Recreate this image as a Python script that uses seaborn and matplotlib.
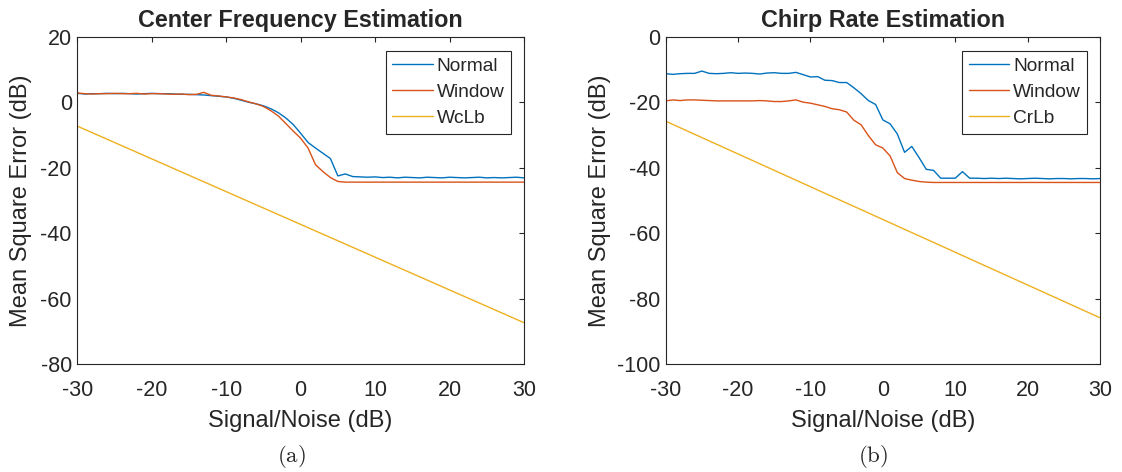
import numpy as np
import pandas as pd
import matplotlib
matplotlib.use("Agg")
import matplotlib.pyplot as plt
import seaborn as sns

# Signal-to-noise grid (dB)
snr = list(range(-30, 31))

# Center frequency estimation MSE (dB)
cf_normal = [2.7, 2.5, 2.6, 2.6, 2.7, 2.6, 2.7, 2.6, 2.5, 2.6,
             2.7, 2.6, 2.6, 2.5, 2.4, 2.4, 2.3, 2.2, 2.0, 1.8,
             1.6, 1.2, 0.6, 0.0, -0.5, -1.1, -2.0, -3.2, -4.8, -6.8,
             -9.5, -12.3, -14.0, -15.6, -17.2, -22.5, -21.9, -22.7, -22.8, -22.9,
             -22.8, -23.0, -22.9, -23.1, -22.9, -23.0, -23.1, -22.9, -23.0, -23.1,
             -22.9, -23.0, -23.1, -23.0, -22.9, -23.1, -23.0, -23.1, -23.0, -22.9,
             -23.1]
cf_window = [2.8, 2.6, 2.5, 2.6, 2.6, 2.7, 2.6, 2.6, 2.7, 2.5,
             2.6, 2.6, 2.5, 2.4, 2.5, 2.3, 2.4, 3.0, 2.1, 1.9,
             1.6, 1.3, 0.8, 0.1, -0.5, -1.3, -2.6, -4.2, -6.5, -8.8,
             -11.0, -14.0, -19.1, -21.2, -23.0, -24.2, -24.4, -24.4, -24.4, -24.4,
             -24.4, -24.4, -24.4, -24.4, -24.4, -24.4, -24.4, -24.4, -24.4, -24.4,
             -24.4, -24.4, -24.4, -24.4, -24.4, -24.4, -24.4, -24.4, -24.4, -24.4,
             -24.4]
bound_snr = [-30, -20, -10, 0, 10, 20, 30]
cf_bound = [-7.3, -17.3, -27.3, -37.3, -47.3, -57.3, -67.3]

# Chirp rate estimation MSE (dB)
cr_normal = [-11.3, -11.5, -11.3, -11.2, -11.2, -10.5, -11.2, -11.3, -11.2, -11.0,
             -11.2, -11.1, -11.2, -11.4, -11.1, -11.0, -11.2, -11.2, -10.9, -11.6,
             -12.3, -12.2, -13.3, -13.4, -14.0, -14.0, -15.6, -17.4, -19.5, -20.7,
             -25.4, -26.6, -29.7, -35.3, -33.5, -36.9, -40.5, -40.8, -43.2, -43.2,
             -43.2, -41.2, -43.2, -43.2, -43.3, -43.2, -43.3, -43.2, -43.3, -43.4,
             -43.3, -43.2, -43.3, -43.4, -43.3, -43.3, -43.4, -43.3, -43.3, -43.4,
             -43.3]
cr_window = [-19.6, -19.3, -19.5, -19.3, -19.3, -19.4, -19.5, -19.6, -19.6, -19.6,
             -19.6, -19.6, -19.6, -19.5, -19.6, -19.8, -19.8, -19.6, -19.3, -20.0,
             -20.3, -20.8, -21.3, -22.0, -22.3, -23.0, -25.5, -26.9, -30.2, -33.0,
             -34.0, -36.4, -41.5, -43.3, -43.8, -44.2, -44.4, -44.5, -44.5, -44.5,
             -44.5, -44.5, -44.5, -44.5, -44.5, -44.5, -44.5, -44.5, -44.5, -44.5,
             -44.5, -44.5, -44.5, -44.5, -44.5, -44.5, -44.5, -44.5, -44.5, -44.5,
             -44.5]
cr_bound = [-25.8, -35.8, -45.8, -55.8, -65.8, -75.8, -85.8]

xticks = [-30, -20, -10, 0, 10, 20, 30]
cf_yticks = [20, 0, -20, -40, -60, -80]
cr_yticks = [0, -20, -40, -60, -80, -100]

colors = ["#0072BD", "#D95319", "#EDB120"]
edge = "#262626"

sns.set_style("white")
plt.rcParams["font.family"] = ["Liberation Sans", "DejaVu Sans"]
plt.rcParams["mathtext.fontset"] = "cm"
plt.rcParams["axes.unicode_minus"] = False

fig = plt.figure(figsize=(11.22, 4.72), dpi=100)
ax1 = fig.add_axes([0.0689, 0.2282, 0.3981, 0.6941])
ax2 = fig.add_axes([0.5933, 0.2282, 0.3871, 0.6941])


def draw(ax, normal, window, bound, bound_name, yticks, title, tag, tag_x,
         ylabel_x):
    df = pd.DataFrame({"snr": snr, "Normal": normal, "Window": window})
    sns.lineplot(data=df, x="snr", y="Normal", ax=ax, color=colors[0],
                 lw=1.0, label="Normal")
    sns.lineplot(data=df, x="snr", y="Window", ax=ax, color=colors[1],
                 lw=1.0, label="Window")
    sns.lineplot(x=bound_snr, y=bound, ax=ax, color=colors[2],
                 lw=1.0, label=bound_name)
    ax.set_xlim(-30, 30)
    ax.set_ylim(min(yticks), max(yticks))
    ax.set_xticks(xticks)
    ax.set_yticks(yticks)
    ax.tick_params(direction="in", length=3.6, width=0.8, colors=edge,
                   labelcolor="#262626", labelsize=15.5,
                   top=True, right=True)
    ax.tick_params(axis="x", pad=11)
    ax.tick_params(axis="y", pad=4)
    for s in ax.spines.values():
        s.set_color(edge)
        s.set_linewidth(0.8)
    ax.set_xlabel("Signal/Noise (dB)", fontsize=17, color="#262626", labelpad=7)
    ax.set_ylabel("Mean Square Error (dB)", fontsize=17, color="#262626")
    ax.yaxis.set_label_coords(ylabel_x, 0.5)
    ax.set_title(title, fontsize=16.8, fontweight="bold", pad=7)
    leg = ax.legend(loc="upper right", bbox_to_anchor=(0.971, 0.9575),
                    borderaxespad=0, fontsize=13.8, fancybox=False,
                    edgecolor=edge, framealpha=1, handlelength=2.1,
                    handletextpad=0.2, labelspacing=0.45, borderpad=0.35)
    leg.get_frame().set_linewidth(0.8)
    fig.text(tag_x, 1 - 457 / 472, tag, ha="center", va="center",
             fontsize=16.5)


draw(ax1, cf_normal, cf_window, cf_bound, "WcLb", cf_yticks,
     "Center Frequency Estimation", r"$\mathrm{(a)}$", 291 / 1122, -0.101)
draw(ax2, cr_normal, cr_window, cr_bound, "CrLb", cr_yticks,
     "Chirp Rate Estimation", r"$\mathrm{(b)}$", 873 / 1122, -0.126)

fig.savefig("out.png", dpi=100)
